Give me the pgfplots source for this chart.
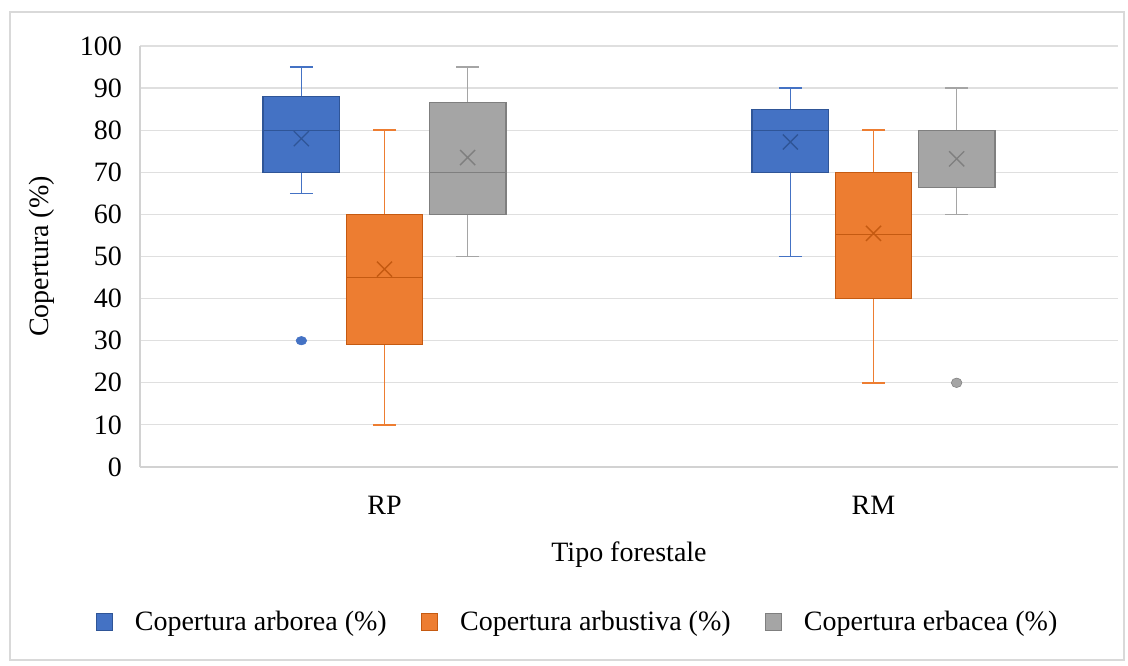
\documentclass[border=0pt]{standalone}
\usepackage{fontspec}
\setmainfont{Liberation Serif}
\usepackage{pgfplots}
\pgfplotsset{compat=1.18}
\definecolor{cblue}{HTML}{4472C4}
\definecolor{cblueD}{HTML}{2F5597}
\definecolor{corange}{HTML}{ED7D31}
\definecolor{corangeD}{HTML}{C55A11}
\definecolor{cgray}{HTML}{A5A5A5}
\definecolor{cgrayD}{HTML}{7F7F7F}
\newcommand\chartfont{\rmfamily\fontsize{21}{25}\selectfont}
% \mybox{pos}{lower whisker}{q1}{median}{q3}{upper whisker}{mean}{fill}{dark}
\newcommand\mybox[9]{%
  \pgfmathsetmacro\boxL{#1-0.0785}\pgfmathsetmacro\boxR{#1+0.0785}%
  \pgfmathsetmacro\capL{#1-0.0235}\pgfmathsetmacro\capR{#1+0.0235}%
  \addplot[draw=#8, line width=1.2pt, unbounded coords=jump, forget plot] coordinates {
    (#1,#2) (#1,#3) (#1,nan) (#1,#5) (#1,#6) (#1,nan)
    (\capL,#2) (\capR,#2) (\capL,nan) (\capL,#6) (\capR,#6)};
  \addplot[draw=#9, fill=#8, line width=0.8pt, forget plot] coordinates {
    (\boxL,#3) (\boxR,#3) (\boxR,#5) (\boxL,#5)} -- cycle;
  \addplot[draw=#9, line width=1pt, forget plot] coordinates {(\boxL,#4) (\boxR,#4)};
  \addplot[only marks, mark=x, mark size=8pt, draw=#9, line width=1pt, forget plot] coordinates {(#1,#7)};
}
\begin{document}
\begin{tikzpicture}
\begin{axis}[
  at={(0pt,0pt)}, anchor=south west,
  scale only axis, width=733.5pt, height=315.75pt,
  xmin=0, xmax=2, ymin=0, ymax=100,
  ytick={0,10,...,100},
  xtick={0.5,1.5}, xticklabels={RP,RM},
  major tick length=0pt,
  x tick label style={anchor=center, yshift=-28.5pt},
  y tick label style={anchor=east, xshift=-10pt},
  axis x line=bottom, axis y line=left,
  axis line style={-, draw=gray!35, line width=0.8pt},
  ymajorgrids, grid style={draw=gray!25, line width=0.9pt},
  tick label style={font=\chartfont},
  /pgf/number format/assume math mode=true,
  xlabel={Tipo forestale},
  ylabel={Copertura (\%)},
  every axis x label/.style={at={(axis description cs:0.5,0)}, anchor=center, yshift=-66pt, font=\chartfont},
  every axis y label/.style={at={(axis description cs:0,0.5)}, xshift=-73.5pt, rotate=90, anchor=center, font=\chartfont},
  legend style={at={(0.448,0)}, yshift=-116pt, anchor=center, draw=none,
    legend columns=3, font=\chartfont,
    /tikz/every odd column/.append style={column sep=15pt},
    /tikz/every even column/.append style={column sep=24pt}},
  legend image code/.code={\draw[#1, line width=0.5pt] (0pt,-6.5pt) rectangle (11.5pt,6.5pt);},
  clip=false,
]
% RP
\mybox{0.33}{65}{70}{80}{88}{95}{78}{cblue}{cblueD}
\mybox{0.5}{10}{29}{45}{60}{80}{47}{corange}{corangeD}
\mybox{0.67}{50}{60}{70}{86.5}{95}{73.5}{cgray}{cgrayD}
% RM
\mybox{1.33}{50}{70}{80}{85}{90}{77.2}{cblue}{cblueD}
\mybox{1.5}{20}{40}{55.3}{70}{80}{55.5}{corange}{corangeD}
\mybox{1.67}{60}{66.3}{80}{80}{90}{73.2}{cgray}{cgrayD}
% outliers
\addplot[only marks, mark=*, mark size=4pt, mark options={fill=cblue, draw=cblue, yscale=0.8}, forget plot]
  coordinates {(0.33,30)};
\addplot[only marks, mark=*, mark size=4pt, mark options={fill=cgray, draw=cgrayD, yscale=0.9}, forget plot]
  coordinates {(1.67,20)};
\addlegendimage{fill=cblue, draw=cblueD}
\addlegendentry{Copertura arborea (\%)}
\addlegendimage{fill=corange, draw=corangeD}
\addlegendentry{Copertura arbustiva (\%)}
\addlegendimage{fill=cgray, draw=cgrayD}
\addlegendentry{Copertura erbacea (\%)}
\end{axis}
\draw[gray!30, line width=0.8pt] (-97.5pt,-144.75pt) rectangle (738pt,341.25pt);
\useasboundingbox (-105pt,-149.25pt) rectangle (741pt,350.25pt);
\end{tikzpicture}
\end{document}
